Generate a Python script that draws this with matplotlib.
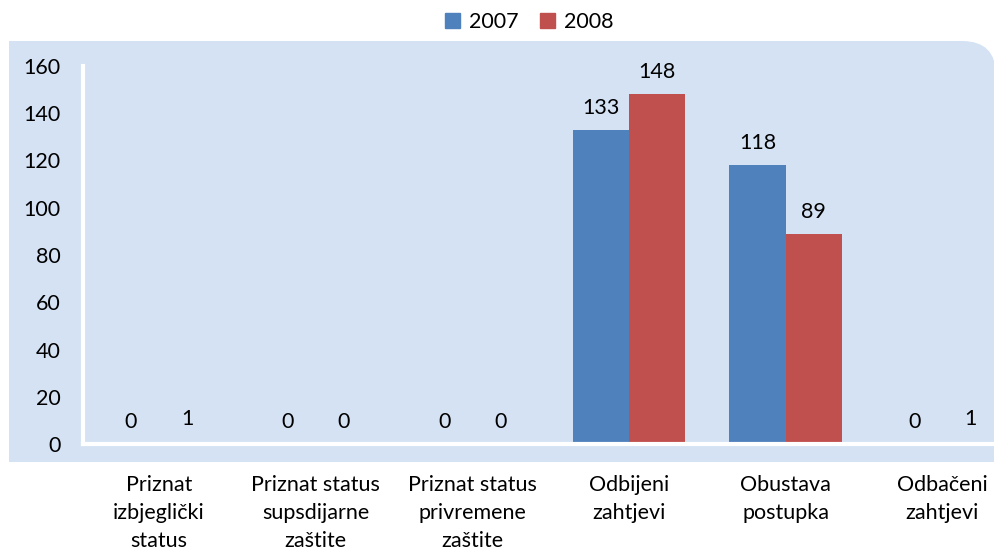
import matplotlib
matplotlib.use("Agg")
import matplotlib.pyplot as plt
import numpy as np
from matplotlib.patches import FancyBboxPatch, Rectangle, Patch

categories = [
    "Priznat\nizbjeglički\nstatus",
    "Priznat status\nsupsdijarne\nzaštite",
    "Priznat status\nprivremene\nzaštite",
    "Odbijeni\nzahtjevi",
    "Obustava\npostupka",
    "Odbačeni\nzahtjevi",
]
values_2007 = [0, 0, 0, 133, 118, 0]
values_2008 = [1, 0, 0, 148, 89, 1]
series_names = ["2007", "2008"]
yticks = [0, 20, 40, 60, 80, 100, 120, 140, 160]

BLUE = "#4F81BD"
RED = "#C0504D"
PANEL = "#D4E2F4"
FS = 15.5

plt.rcParams["font.family"] = ["Lato", "DejaVu Sans"]

W, H = 994, 549
fig = plt.figure(figsize=(W / 100, H / 100), dpi=100)

# background layer in pixel units for the plot-area panel
bg = fig.add_axes([0, 0, 1, 1], zorder=-1)
bg.set_xlim(0, W)
bg.set_ylim(H, 0)
bg.axis("off")
top, bottom, left, right, r = 41, 462, 9, 996, 34
bg.add_patch(Rectangle((left, top), right - r - left, bottom - top,
                       facecolor=PANEL, edgecolor="none"))
bg.add_patch(Rectangle((left, top + r), right - left, bottom - top - r,
                       facecolor=PANEL, edgecolor="none"))
bg.add_patch(FancyBboxPatch((right - 3 * r, top), 3 * r, 3 * r,
                            boxstyle=f"round,pad=0,rounding_size={r}",
                            facecolor=PANEL, edgecolor="none"))

ax = fig.add_axes([83 / W, (H - 444) / H, (W - 83) / W, (444 - 66) / H])
ax.set_facecolor("none")

x = np.arange(len(categories))
width = 0.36
b1 = ax.bar(x - width / 2, values_2007, width, color=BLUE, zorder=3)
b2 = ax.bar(x + width / 2, values_2008, width, color=RED, zorder=3)

for bars, vals in ((b1, values_2007), (b2, values_2008)):
    for bar, v in zip(bars, vals):
        ax.annotate(str(v), (bar.get_x() + bar.get_width() / 2, v),
                    xytext=(0, 16), textcoords="offset points",
                    ha="center", va="center", fontsize=FS, color="black")

ax.set_xlim(-0.485, 5.33)
ax.set_ylim(0, 160)
ax.set_yticks(yticks)
ax.set_xticks(x)
ax.set_xticklabels(categories, fontsize=FS, linespacing=1.5)
ax.tick_params(axis="y", length=0, pad=16, labelsize=FS)
ax.tick_params(axis="x", length=0, pad=22)

for side in ("top", "right"):
    ax.spines[side].set_visible(False)
for side in ("left", "bottom"):
    ax.spines[side].set_color("white")
    ax.spines[side].set_linewidth(3)
    ax.spines[side].set_zorder(4)

handles = [Patch(color=BLUE), Patch(color=RED)]
fig.legend(handles, series_names, loc="center", ncol=2, frameon=False,
           bbox_to_anchor=(529 / W, 1 - 22 / H), fontsize=FS,
           handlelength=0.7, handleheight=0.7, handletextpad=0.4,
           columnspacing=1.0)

fig.savefig("out.png", dpi=100)
